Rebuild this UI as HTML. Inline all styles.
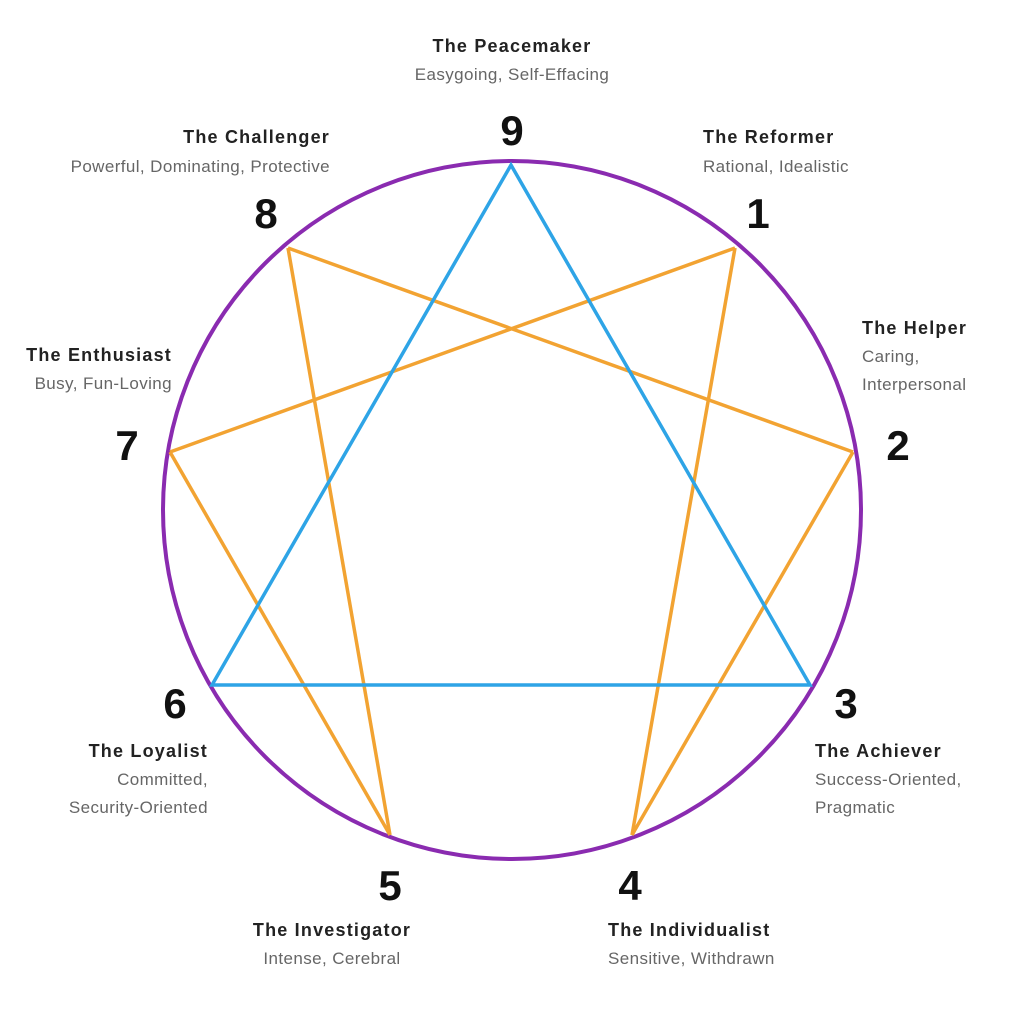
<!DOCTYPE html>
<html><head><style>
html,body{margin:0;padding:0;background:#fff;}
svg{display:block;}
.t{font-family:"Liberation Sans",sans-serif;font-weight:bold;font-size:18px;letter-spacing:1.2px;fill:#222;}
.s{font-family:"Liberation Sans",sans-serif;font-size:17px;fill:#666;letter-spacing:0.4px;}
.n{font-family:"Liberation Sans",sans-serif;font-weight:bold;font-size:42px;fill:#111;}
</style></head><body>
<svg width="1023" height="1022" viewBox="0 0 1023 1022">
<circle cx="512" cy="510" r="349" fill="none" stroke="#8a2bb0" stroke-width="4"/>
<g fill="none" stroke="#f2a332" stroke-width="3.5">
<line x1="735" y1="248" x2="632" y2="835"/>
<line x1="632" y1="835" x2="853" y2="452"/>
<line x1="853" y1="452" x2="288" y2="248"/>
<line x1="288" y1="248" x2="390" y2="835"/>
<line x1="390" y1="835" x2="170" y2="452"/>
<line x1="170" y1="452" x2="735" y2="248"/>
</g>
<polygon points="511,165 810,685 212,685" fill="none" stroke="#2ea4e6" stroke-width="3.5"/>
<g class="n" text-anchor="middle">
<text x="512" y="145">9</text>
<text x="758" y="228">1</text>
<text x="898" y="460">2</text>
<text x="846" y="718">3</text>
<text x="630" y="900">4</text>
<text x="390" y="900">5</text>
<text x="175" y="718">6</text>
<text x="127" y="460">7</text>
<text x="266" y="228">8</text>
</g>
<text class="t" x="512" y="52" text-anchor="middle">The Peacemaker</text>
<text class="s" x="512" y="80" text-anchor="middle">Easygoing, Self-Effacing</text>
<text class="t" x="703" y="143">The Reformer</text>
<text class="s" x="703" y="172">Rational, Idealistic</text>
<text class="t" x="862" y="334">The Helper</text>
<text class="s" x="862" y="362">Caring,</text>
<text class="s" x="862" y="390">Interpersonal</text>
<text class="t" x="815" y="757">The Achiever</text>
<text class="s" x="815" y="785">Success-Oriented,</text>
<text class="s" x="815" y="813">Pragmatic</text>
<text class="t" x="608" y="936">The Individualist</text>
<text class="s" x="608" y="964">Sensitive, Withdrawn</text>
<text class="t" x="332" y="936" text-anchor="middle">The Investigator</text>
<text class="s" x="332" y="964" text-anchor="middle">Intense, Cerebral</text>
<text class="t" x="208" y="757" text-anchor="end">The Loyalist</text>
<text class="s" x="208" y="785" text-anchor="end">Committed,</text>
<text class="s" x="208" y="813" text-anchor="end">Security-Oriented</text>
<text class="t" x="172" y="361" text-anchor="end">The Enthusiast</text>
<text class="s" x="172" y="389" text-anchor="end">Busy, Fun-Loving</text>
<text class="t" x="330" y="143" text-anchor="end">The Challenger</text>
<text class="s" x="330" y="172" text-anchor="end">Powerful, Dominating, Protective</text>
</svg>
</body></html>
